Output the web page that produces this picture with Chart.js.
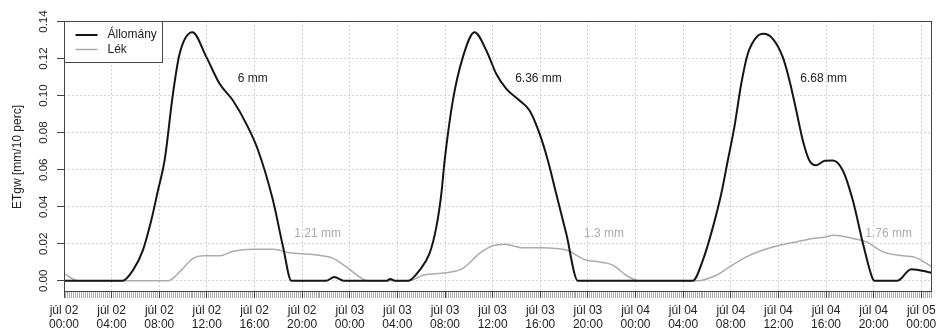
<!DOCTYPE html>
<html>
<head>
<meta charset="utf-8">
<script src="https://cdn.jsdelivr.net/npm/chart.js@4/dist/chart.umd.min.js"></script>
<style>
  body { margin: 0; background: #fff; }
  #wrap { width: 938px; height: 330px; }
</style>
</head>
<body>
<div id="wrap"><canvas id="etChart" width="938" height="330"></canvas></div>
<script>
// hours since júl 02 00:00, 10-min ET of groundwater
const allomanyHours = [0, 4.9, 5.8, 6.63, 7.33, 7.9, 8.45, 9.15, 9.71, 10.78, 11.96, 13.07, 14.19, 15.3, 16.3, 17.55, 18.4, 19.1,
  22.0, 22.7, 23.5, 27.1, 27.4, 27.8, 28.9,
  29.87, 30.7, 31.27, 31.69, 31.97, 32.66, 33.5, 34.48, 35.47, 36.3, 37.15, 38.26, 39.1, 39.94, 40.64, 41.34, 42.18, 43.16,
  52.8, 53.65, 54.5, 55.2, 55.75, 56.3, 56.88, 57.43, 58.14, 58.75, 59.53, 60.37, 60.93, 61.5, 62.05, 62.6, 63.17, 63.9, 64.57,
  65.4, 66.25, 67.1, 67.9, 68.07, 70.0, 71.15, 72.9];
const allomanyValues = [0, 0, 0.0058, 0.0166, 0.0327, 0.049, 0.065, 0.101, 0.1226, 0.1342, 0.1208, 0.1064, 0.0974, 0.0849, 0.0705, 0.0435, 0.0183, 0,
  0, 0.002, 0, 0, 0.001, 0, 0,
  0.0058, 0.0148, 0.029, 0.047, 0.065, 0.0974, 0.1208, 0.1342, 0.1244, 0.1118, 0.1037, 0.0974, 0.092, 0.0795, 0.065, 0.047, 0.0255, 0,
  0, 0.011, 0.029, 0.047, 0.065, 0.083, 0.1064, 0.1226, 0.1315, 0.1334, 0.1307, 0.1208, 0.1082, 0.092, 0.0758, 0.065, 0.0624, 0.0648, 0.065,
  0.0597, 0.0435, 0.0202, 0.0013, 0, 0, 0.0063, 0.0043];

const lekHours = [0, 1.18, 8.73, 9.86, 10.83, 11.67, 13.07, 14.2, 15.87, 17.55, 18.95, 20.9, 22.6, 23.7, 24.8, 25.5,
  29.0, 30.14, 32.1, 33.5, 34.9, 36.0, 37.0, 38.54, 39.94, 41.34, 42.18, 43.86, 44.98, 46.1, 47.22, 48.3,
  53.2, 54.78, 55.9, 57.3, 58.7, 60.1, 61.5, 62.9, 63.7, 64.7, 66.25, 67.4, 68.8, 70.45, 71.57, 72.9];
const lekValues = [0.004, 0, 0, 0.0058, 0.0121, 0.0135, 0.0135, 0.016, 0.0171, 0.0171, 0.0151, 0.0142, 0.0121, 0.0075, 0.0022, 0,
  0, 0.003, 0.0043, 0.0067, 0.0148, 0.0189, 0.0198, 0.0178, 0.0178, 0.0175, 0.0166, 0.0112, 0.0102, 0.0085, 0.003, 0,
  0, 0.003, 0.0075, 0.0129, 0.0166, 0.0192, 0.021, 0.0229, 0.0234, 0.0246, 0.0229, 0.021, 0.0156, 0.0135, 0.0124, 0.0075];

// daily sums written next to the curves
const allomanySums = ['6 mm', '6.36 mm', '6.68 mm'];
const allomanySumHours = [15.85, 39.85, 63.8];
const allomanySumLevel = 0.1093;
const lekSums = ['1.21 mm', '1.3 mm', '1.76 mm'];
const lekSumHours = [21.3, 45.35, 69.25];
const lekSumLevel = 0.0252;

const xTickLabels = [
  ['júl 02', '00:00'], ['júl 02', '04:00'], ['júl 02', '08:00'], ['júl 02', '12:00'], ['júl 02', '16:00'], ['júl 02', '20:00'],
  ['júl 03', '00:00'], ['júl 03', '04:00'], ['júl 03', '08:00'], ['júl 03', '12:00'], ['júl 03', '16:00'], ['júl 03', '20:00'],
  ['júl 04', '00:00'], ['júl 04', '04:00'], ['júl 04', '08:00'], ['júl 04', '12:00'], ['júl 04', '16:00'], ['júl 04', '20:00'],
  ['júl 05', '00:00']
];

const FONT = "'Liberation Sans', Arial, sans-serif";
const BLACK = '#151515';
const GREY = '#ababab';

function toPoints(hours, values) {
  return hours.map((h, i) => ({ x: h, y: values[i] }));
}

// R-style box, rotated y labels, legend and sum labels
const decorations = {
  id: 'decorations',
  afterDraw(chart) {
    const ctx = chart.ctx;
    const a = chart.chartArea;
    const xs = chart.scales.x;
    const ys = chart.scales.y;

    ctx.save();
    ctx.strokeStyle = '#444';
    ctx.lineWidth = 1;
    ctx.strokeRect(Math.round(a.left) + 0.5, Math.round(a.top) + 0.5, Math.round(a.right - a.left) - 1, Math.round(a.bottom - a.top));

    ctx.fillStyle = '#222';
    ctx.font = '11.5px ' + FONT;
    ctx.textAlign = 'center';
    ctx.textBaseline = 'middle';
    ys.ticks.forEach(t => {
      ctx.save();
      ctx.translate(44, ys.getPixelForValue(t.value));
      ctx.rotate(-Math.PI / 2);
      ctx.fillText(t.value.toFixed(2), 0, 0);
      ctx.restore();
    });

    ctx.font = '12px ' + FONT;
    ctx.save();
    ctx.translate(18, (a.top + a.bottom) / 2 + 1);
    ctx.rotate(-Math.PI / 2);
    ctx.fillText('ETgw [mm/10 perc]', 0, 0);
    ctx.restore();

    // legend
    const lx = Math.round(a.left) + 0.5, ly = Math.round(a.top) + 0.5;
    ctx.fillStyle = '#fff';
    ctx.fillRect(lx, ly, 98, 41);
    ctx.strokeStyle = '#444';
    ctx.strokeRect(lx, ly, 98, 41);
    chart.data.datasets.forEach((ds, i) => {
      const yy = ly + 13.5 + i * 14.5;
      ctx.strokeStyle = ds.borderColor;
      ctx.lineWidth = ds.borderWidth;
      ctx.beginPath();
      ctx.moveTo(lx + 11, yy);
      ctx.lineTo(lx + 33, yy);
      ctx.stroke();
      ctx.fillStyle = '#222';
      ctx.textAlign = 'left';
      ctx.fillText(ds.label, lx + 43, yy);
    });

    ctx.textAlign = 'center';
    ctx.fillStyle = '#222';
    allomanySums.forEach((s, i) => {
      ctx.fillText(s, xs.getPixelForValue(allomanySumHours[i]), ys.getPixelForValue(allomanySumLevel));
    });
    ctx.fillStyle = GREY;
    lekSums.forEach((s, i) => {
      ctx.fillText(s, xs.getPixelForValue(lekSumHours[i]), ys.getPixelForValue(lekSumLevel));
    });
    ctx.restore();
  }
};

new Chart(document.getElementById('etChart'), {
  type: 'line',
  data: {
    datasets: [
      {
        label: 'Állomány',
        data: toPoints(allomanyHours, allomanyValues),
        borderColor: BLACK,
        borderWidth: 2,
        pointRadius: 0,
        cubicInterpolationMode: 'monotone'
      },
      {
        label: 'Lék',
        data: toPoints(lekHours, lekValues),
        borderColor: GREY,
        borderWidth: 1.5,
        pointRadius: 0,
        cubicInterpolationMode: 'monotone'
      }
    ]
  },
  options: {
    responsive: false,
    animation: false,
    devicePixelRatio: 1,
    layout: { padding: { top: 21, right: 6, left: 0, bottom: 0 } },
    plugins: { legend: { display: false }, tooltip: { enabled: false } },
    scales: {
      // 10-minute rug under the plot box
      xMinor: {
        type: 'linear',
        position: 'bottom',
        weight: 0,
        min: 0,
        max: 72.9,
        border: { display: false },
        grid: { drawOnChartArea: false, tickLength: 7, tickColor: '#a8a8a8' },
        ticks: { display: false, stepSize: 1 / 6, includeBounds: false },
        afterFit(s) { s.height = 0; s.paddingLeft = 0; s.paddingRight = 0; }
      },
      x: {
        type: 'linear',
        position: 'bottom',
        weight: 1,
        min: 0,
        max: 72.9,
        border: { display: false, dash: [2, 2] },
        grid: { color: '#d4d4d4', tickLength: 7, tickColor: '#444', z: 0 },
        ticks: {
          stepSize: 4,
          includeBounds: false,
          autoSkip: false,
          maxRotation: 0,
          minRotation: 0,
          padding: 6,
          color: '#222',
          font: { family: FONT, size: 12, lineHeight: 1.17 },
          callback: v => xTickLabels[Math.round(v / 4)]
        },
        afterFit(s) { s.height = 39; s.paddingLeft = 0; s.paddingRight = 0; }
      },
      y: {
        type: 'linear',
        min: -0.0055,
        max: 0.1403,
        border: { display: false, dash: [2, 2] },
        grid: { color: '#d4d4d4', tickLength: 7, tickColor: '#444' },
        ticks: { display: false, stepSize: 0.02, includeBounds: false },
        afterFit(s) { s.width = 64; s.paddingTop = 0; s.paddingBottom = 0; }
      }
    }
  },
  plugins: [decorations]
});
</script>
</body>
</html>
